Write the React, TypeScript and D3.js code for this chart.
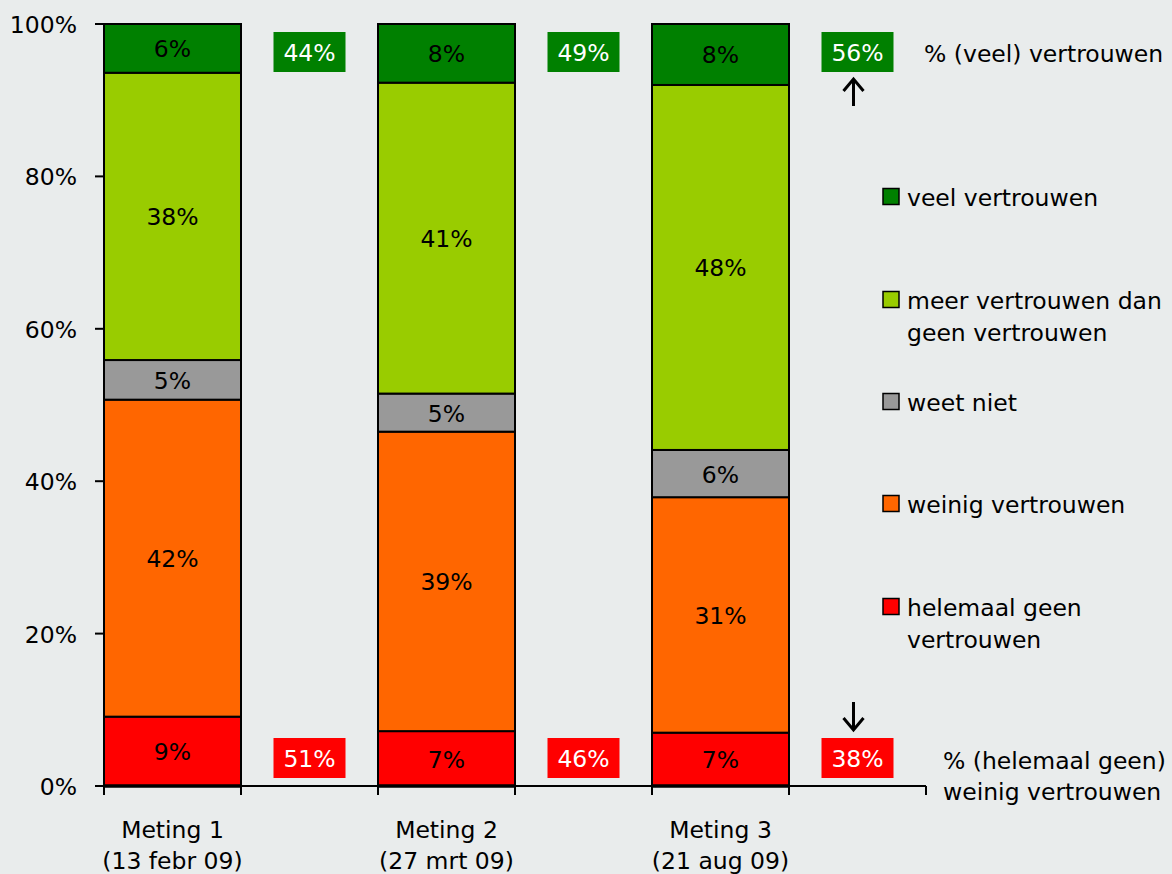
import React from "react";
import * as d3 from "d3";

const categories = ["Meting 1", "gap1", "Meting 2", "gap2", "Meting 3", "gap3"];
const barCategories = ["Meting 1", "Meting 2", "Meting 3"];
const gapCategories = ["gap1", "gap2", "gap3"];
const categoryLines1 = ["Meting 1", "Meting 2", "Meting 3"];
const categoryLines2 = ["(13 febr 09)", "(27 mrt 09)", "(21 aug 09)"];

const seriesKeys = ["helemaal", "weinig", "weetniet", "meer", "veel"];
const seriesNames = [
  ["helemaal geen", "vertrouwen"],
  ["weinig vertrouwen"],
  ["weet niet"],
  ["meer vertrouwen dan", "geen vertrouwen"],
  ["veel vertrouwen"],
];
const seriesColors = ["#ff0000", "#ff6600", "#999999", "#99cc00", "#008000"];

const helemaal = [9.1, 7.2, 7.0];
const weinig = [41.6, 39.3, 30.9];
const weetniet = [5.2, 5.0, 6.2];
const meer = [37.7, 40.8, 47.9];
const veel = [6.4, 7.7, 8.0];

const helemaalLabels = ["9%", "7%", "7%"];
const weinigLabels = ["42%", "39%", "31%"];
const weetnietLabels = ["5%", "5%", "6%"];
const meerLabels = ["38%", "41%", "48%"];
const veelLabels = ["6%", "8%", "8%"];

const positiveTotals = ["44%", "49%", "56%"];
const negativeTotals = ["51%", "46%", "38%"];

const yTicks = [0, 20, 40, 60, 80, 100];

const FONT = "'DejaVu Sans', Verdana, sans-serif";
const FS = 23.5;

export default function App() {
  const W = 1172, H = 874;
  const x = d3.scaleBand<string>().domain(categories).range([104, 926]).padding(0);
  const y = d3.scaleLinear().domain([0, 100]).range([786, 24]);

  const rows = barCategories.map((c, i) => ({
    cat: c,
    helemaal: helemaal[i],
    weinig: weinig[i],
    weetniet: weetniet[i],
    meer: meer[i],
    veel: veel[i],
  }));
  const labelSets = [helemaalLabels, weinigLabels, weetnietLabels, meerLabels, veelLabels];
  const stacked = d3.stack<any>().keys(seriesKeys)(rows);

  const bw = x.bandwidth();
  const boxW = 72, boxH = 40;

  const legendY = [197, 300, 402, 504, 607];
  const legendOrder = [4, 3, 2, 1, 0];

  const arrowX = (x(gapCategories[2]) as number) + bw / 2 - 4;

  return (
    <svg width={W} height={H} style={{ position: "absolute", left: 0, top: 0 }} fontFamily={FONT}>
      <rect x={0} y={0} width={W} height={H} fill="#e9ecec" />
      {/* bars */}
      {stacked.map((s, si) =>
        s.map((d, i) => {
          const x0 = x(barCategories[i]) as number;
          const y0 = y(d[1]);
          const y1 = y(d[0]);
          return (
            <g key={`${si}-${i}`}>
              <rect x={x0} y={y0} width={bw} height={y1 - y0} fill={seriesColors[si]} stroke="#000" strokeWidth={2} />
              <text x={x0 + bw / 2} y={(y0 + y1) / 2 + 1} textAnchor="middle" dominantBaseline="central" fontSize={FS} fill="#000">
                {labelSets[si][i]}
              </text>
            </g>
          );
        })
      )}
      {/* axes */}
      <line x1={104} x2={104} y1={24} y2={786} stroke="#000" strokeWidth={2} />
      {yTicks.map((t) => (
        <g key={t}>
          <line x1={95} x2={104} y1={y(t)} y2={y(t)} stroke="#000" strokeWidth={2} />
          <text x={77} y={y(t) + 1} textAnchor="end" dominantBaseline="central" fontSize={FS} fill="#000">
            {t}%
          </text>
        </g>
      ))}
      <line x1={104} x2={926} y1={786} y2={786} stroke="#000" strokeWidth={2} />
      {barCategories.map((c) => (
        <line key={c} x1={x(c) as number} x2={(x(c) as number) + bw} y1={786} y2={786} stroke="#000" strokeWidth={3.5} />
      ))}
      {categories.map((c) => (
        <line key={c} x1={x(c) as number} x2={x(c) as number} y1={786} y2={795} stroke="#000" strokeWidth={2} />
      ))}
      <line x1={926} x2={926} y1={786} y2={795} stroke="#000" strokeWidth={2} />
      {barCategories.map((c, i) => (
        <g key={c}>
          <text x={(x(c) as number) + bw / 2} y={830} textAnchor="middle" dominantBaseline="central" fontSize={FS} fill="#000">
            {categoryLines1[i]}
          </text>
          <text x={(x(c) as number) + bw / 2} y={861} textAnchor="middle" dominantBaseline="central" fontSize={FS} fill="#000">
            {categoryLines2[i]}
          </text>
        </g>
      ))}
      {/* totals boxes */}
      {gapCategories.map((c, i) => {
        const cx = (x(c) as number) + bw / 2;
        return (
          <g key={c}>
            <rect x={cx - boxW / 2} y={32} width={boxW} height={boxH} fill="#008000" />
            <text x={cx} y={53} textAnchor="middle" dominantBaseline="central" fontSize={FS} fill="#fff">
              {positiveTotals[i]}
            </text>
            <rect x={cx - boxW / 2} y={738} width={boxW} height={boxH} fill="#ff0000" />
            <text x={cx} y={759} textAnchor="middle" dominantBaseline="central" fontSize={FS} fill="#fff">
              {negativeTotals[i]}
            </text>
          </g>
        );
      })}
      {/* arrows */}
      <line x1={arrowX} x2={arrowX} y1={106} y2={80} stroke="#000" strokeWidth={3} />
      <path d={`M${arrowX - 10},${91} L${arrowX},${79} L${arrowX + 10},${91}`} fill="none" stroke="#000" strokeWidth={3} />
      <line x1={arrowX} x2={arrowX} y1={702} y2={729} stroke="#000" strokeWidth={3} />
      <path d={`M${arrowX - 10},${718} L${arrowX},${730} L${arrowX + 10},${718}`} fill="none" stroke="#000" strokeWidth={3} />
      {/* right notes */}
      <text x={924} y={54} dominantBaseline="central" fontSize={FS} fill="#000">% (veel) vertrouwen</text>
      <text x={943} y={761} dominantBaseline="central" fontSize={FS} fill="#000">% (helemaal geen)</text>
      <text x={943} y={792} dominantBaseline="central" fontSize={FS} fill="#000">weinig vertrouwen</text>
      {/* legend */}
      {legendOrder.map((si, k) => (
        <g key={si}>
          <rect x={883} y={legendY[k] - 8.5} width={16} height={16} fill={seriesColors[si]} stroke="#000" strokeWidth={1.5} />
          {seriesNames[si].map((ln, j) => (
            <text key={j} x={907} y={legendY[k] + j * 32 + 1} dominantBaseline="central" fontSize={FS} fill="#000">
              {ln}
            </text>
          ))}
        </g>
      ))}
    </svg>
  );
}
